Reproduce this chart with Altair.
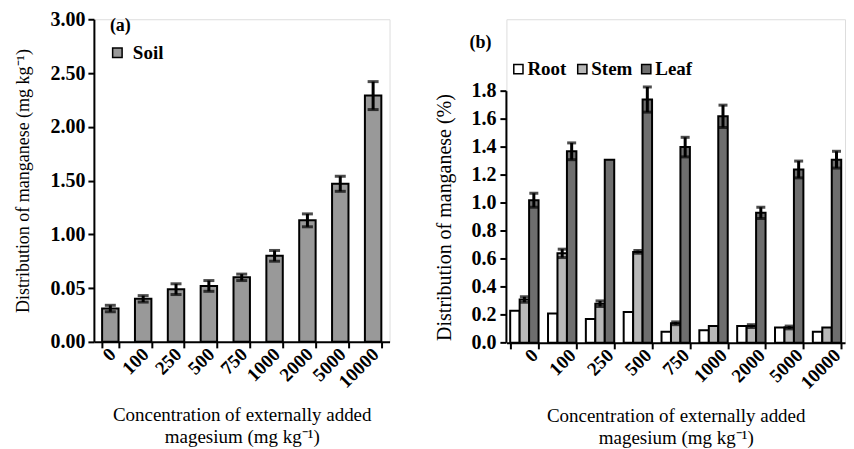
import altair as alt
import pandas as pd

# ---------------- data ----------------
conc = ["0", "100", "250", "500", "750", "1000", "2000", "5000", "10000"]

soil_mean = [0.31, 0.40, 0.49, 0.52, 0.60, 0.80, 1.13, 1.47, 2.29]
soil_err = [0.03, 0.03, 0.05, 0.05, 0.03, 0.05, 0.06, 0.07, 0.13]

parts = ["Root", "Stem", "Leaf"]
root_mean = [0.23, 0.21, 0.17, 0.22, 0.08, 0.09, 0.12, 0.11, 0.08]
root_err = [0.0, 0.0, 0.0, 0.0, 0.0, 0.0, 0.0, 0.0, 0.0]
stem_mean = [0.31, 0.64, 0.28, 0.65, 0.14, 0.12, 0.12, 0.11, 0.11]
stem_err = [0.02, 0.03, 0.02, 0.01, 0.01, 0.0, 0.01, 0.01, 0.0]
leaf_mean = [1.02, 1.37, 1.31, 1.74, 1.40, 1.62, 0.93, 1.24, 1.31]
leaf_err = [0.05, 0.06, 0.0, 0.09, 0.07, 0.08, 0.04, 0.06, 0.06]

soil_ticks = [0, 0.5, 1.0, 1.5, 2.0, 2.5, 3.0]
soil_tick_labels = ["0.00", "0.05", "1.00", "1.50", "2.00", "2.50", "3.00"]
organ_ticks = [0, 0.2, 0.4, 0.6, 0.8, 1.0, 1.2, 1.4, 1.6, 1.8]
organ_tick_labels = ["0.0", "0.2", "0.4", "0.6", "0.8", "1.0", "1.2", "1.4", "1.6", "1.8"]

x_title = ["Concentration of externally added", "magesium (mg kg\u207b\u00b9)"]
y_title_a = "Distribution of manganese (mg kg\u207b\u00b9)"
y_title_b = "Distribution of manganese (%)"

FONT = "Liberation Serif"

# ---------------- tables ----------------
soil_df = pd.DataFrame({
    "conc": conc,
    "part": "Soil",
    "mean": soil_mean,
    "lo": [m - e for m, e in zip(soil_mean, soil_err)],
    "hi": [m + e for m, e in zip(soil_mean, soil_err)],
    "err": soil_err,
})

rows = []
for p, means, errs in zip(parts, [root_mean, stem_mean, leaf_mean], [root_err, stem_err, leaf_err]):
    for c, m, e in zip(conc, means, errs):
        rows.append({"conc": c, "part": p, "mean": m, "lo": m - e, "hi": m + e, "err": e})
organ_df = pd.DataFrame(rows)

organ_ticks_df = pd.DataFrame({"mean": organ_ticks, "lab": organ_tick_labels})
legend_df = pd.DataFrame({"part": parts})

label_expr_a = " : ".join(
    f"datum.value == {v} ? '{t}'" for v, t in zip(soil_ticks, soil_tick_labels)
) + " : ''"

X_LABEL_SIZE = 19
Y_LABEL_SIZE = 20


def x_axis(offset):
    return alt.Axis(
        title=x_title, labelAngle=-45, labelAlign="right", labelBaseline="middle",
        tickBand="extent", labelFont=FONT, labelFontSize=X_LABEL_SIZE, labelFontWeight="bold",
        labelColor="black", labelOverlap=False, labelOffset=offset,
        titleFont=FONT, titleFontSize=19, titleFontWeight="normal", titleLineHeight=22,
        titleColor="black", domainColor="black", domainWidth=2, tickColor="black",
        tickWidth=2, tickSize=6, labelPadding=3, titlePadding=14,
    )


# ---------------- panel (a) ----------------
a_height = 323
xa = alt.X("conc:N", sort=conc, scale=alt.Scale(paddingInner=0.5, paddingOuter=0.25), axis=x_axis(2))
ya = alt.Y(
    "mean:Q", scale=alt.Scale(domain=[0, 3], nice=False, zero=True),
    axis=alt.Axis(
        title=y_title_a, values=soil_ticks, labelExpr=label_expr_a, grid=False,
        labelFont=FONT, labelFontSize=Y_LABEL_SIZE, labelFontWeight="bold", labelColor="black",
        labelOverlap=False,
        titleFont=FONT, titleFontSize=18, titleFontWeight="normal", titleColor="black",
        domainColor="black", domainWidth=2, tickColor="black", tickWidth=2, tickSize=6,
        labelPadding=3, titlePadding=17,
    ),
)

base_a = alt.Chart(soil_df)
bars_a = base_a.mark_bar(stroke="black", strokeWidth=2).encode(
    x=xa, y=ya,
    color=alt.Color(
        "part:N", scale=alt.Scale(domain=["Soil"], range=["#999999"]),
        legend=alt.Legend(
            title=None, orient="none", legendX=14, legendY=24, symbolType="square",
            symbolStrokeColor="black", symbolStrokeWidth=1.5, symbolSize=90, labelOffset=6,
            labelFont=FONT, labelFontSize=19, labelFontWeight="bold", labelColor="black",
        ),
    ),
)
err_a = base_a.mark_rule(color="black", strokeWidth=3).encode(
    x=alt.X("conc:N", sort=conc), y="lo:Q", y2="hi:Q"
)
caphi_a = base_a.mark_tick(color="black", thickness=3, size=11).encode(
    x=alt.X("conc:N", sort=conc), y="hi:Q"
)
caplo_a = base_a.mark_tick(color="black", thickness=3, size=11).encode(
    x=alt.X("conc:N", sort=conc), y="lo:Q"
)
tag_a = alt.Chart(pd.DataFrame({"t": ["(a)"]})).mark_text(
    font=FONT, fontSize=18, fontWeight="bold", align="left", baseline="middle", color="black"
).encode(x=alt.value(16), y=alt.value(7), text="t:N")

panel_a = alt.layer(bars_a, err_a, caphi_a, caplo_a, tag_a).properties(width=296, height=a_height)

# ---------------- panel (b) ----------------
b_height = 324
b_px_per_unit = 252 / 1.8
b_top = b_height / b_px_per_unit

yb_scale = alt.Scale(domain=[0, b_top], nice=False, zero=True)
xb = alt.X("conc:N", sort=conc, scale=alt.Scale(paddingInner=0.25, paddingOuter=0.1), axis=x_axis(10))
yb = alt.Y(
    "mean:Q", scale=yb_scale,
    axis=alt.Axis(
        title=y_title_b, titleY=(b_height - 0.9 * b_px_per_unit),
        grid=False, domain=False, labels=False, ticks=False,
        titleFont=FONT, titleFontSize=20, titleFontWeight="normal", titleColor="black",
        titlePadding=52,
    ),
)
organ_color = alt.Color(
    "part:N", sort=parts,
    scale=alt.Scale(domain=parts, range=["#ffffff", "#b8b8b8", "#6e6e6e"]),
    legend=None,
)

base_b = alt.Chart(organ_df)
bars_b = base_b.mark_bar(stroke="black", strokeWidth=2).encode(
    x=xb, y=yb, xOffset=alt.XOffset("part:N", sort=parts), color=organ_color,
)
eb = base_b.transform_filter("datum.err > 0")
err_b = eb.mark_rule(color="black", strokeWidth=3).encode(
    x=alt.X("conc:N", sort=conc), xOffset=alt.XOffset("part:N", sort=parts),
    y="lo:Q", y2="hi:Q"
)
caphi_b = eb.mark_tick(color="black", thickness=3, size=9).encode(
    x=alt.X("conc:N", sort=conc), xOffset=alt.XOffset("part:N", sort=parts),
    y="hi:Q"
)
caplo_b = eb.mark_tick(color="black", thickness=3, size=9).encode(
    x=alt.X("conc:N", sort=conc), xOffset=alt.XOffset("part:N", sort=parts),
    y="lo:Q"
)
# y axis of panel (b): line, ticks and labels from the tick list
yline_b = alt.Chart(pd.DataFrame({"mean": [organ_ticks[0]], "top": [organ_ticks[-1]]})).mark_rule(
    color="black", strokeWidth=2
).encode(x=alt.value(0), y="mean:Q", y2="top:Q")
yticks_b = alt.Chart(organ_ticks_df).mark_rule(color="black", strokeWidth=2).encode(
    x=alt.value(-6), x2=alt.value(0), y="mean:Q"
)
ylabels_b = alt.Chart(organ_ticks_df).mark_text(
    font=FONT, fontSize=Y_LABEL_SIZE, fontWeight="bold", align="right", baseline="middle",
    color="black", dx=-10
).encode(x=alt.value(0), y="mean:Q", text="lab:N")
tag_b = alt.Chart(pd.DataFrame({"t": ["(b)"]})).mark_text(
    font=FONT, fontSize=18, fontWeight="bold", align="left", baseline="middle", color="black"
).encode(x=alt.value(-37), y=alt.value(24), text="t:N")

# legend of panel (b): one swatch + label per plant part, in a row
legend_layers = []
for i, p in enumerate(parts):
    leg = alt.Chart(legend_df).transform_filter(alt.datum.part == p)
    legend_layers.append(
        leg.mark_square(size=85, stroke="black", strokeWidth=1.5, opacity=1).encode(
            x=alt.value(12 + 64 * i), y=alt.value(50), color=organ_color
        )
    )
    legend_layers.append(
        leg.mark_text(
            font=FONT, fontSize=19, fontWeight="bold", align="left", baseline="middle", color="black"
        ).encode(x=alt.value(21 + 64 * i), y=alt.value(50), text="part:N")
    )

panel_b = alt.layer(
    bars_b, err_b, caphi_b, caplo_b, yline_b, yticks_b, ylabels_b, tag_b, *legend_layers
).properties(width=339, height=b_height)

chart = alt.hconcat(panel_a, panel_b, spacing=43).resolve_scale(
    color="independent", x="independent", y="independent"
).resolve_legend(color="independent").properties(
    padding={"left": 6, "top": 0, "right": 0, "bottom": 0}
).configure_view(strokeWidth=0).configure(background="white")

chart.save("out.html", embed_options={"renderer": "svg", "actions": False})
